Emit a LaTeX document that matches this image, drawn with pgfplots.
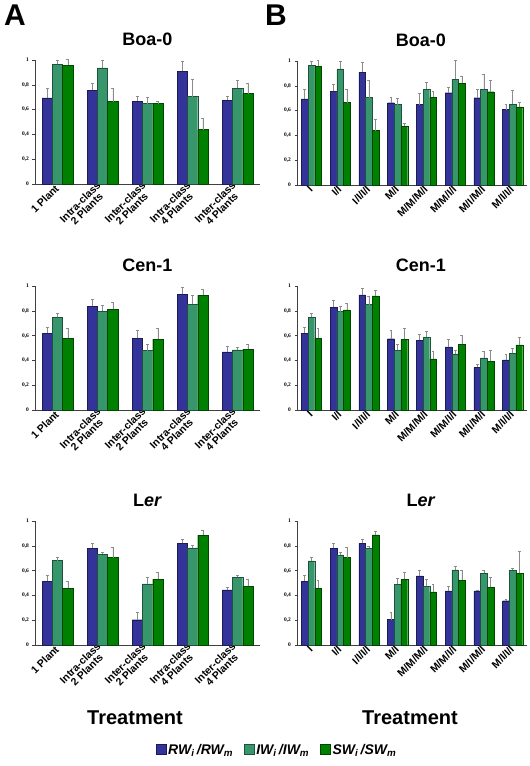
\documentclass[border=0pt]{standalone}
\usepackage{pgfplots}
\usepackage{pgfplotstable}
\usepackage{fontspec}
\setmainfont{Liberation Sans}
\newfontfamily\serifb{Liberation Serif}
\pgfplotsset{compat=1.18}
\definecolor{cB}{RGB}{51,51,153}
\definecolor{cT}{RGB}{56,150,108}
\definecolor{cG}{RGB}{0,128,0}

\pgfplotstableread{
x b be t te g ge
0 0.694 0.08 0.965 0.035 0.957 0.05
1 0.755 0.06 0.936 0.06 0.665 0.11
2 0.668 0.04 0.649 0.05 0.649 0.02
3 0.910 0.08 0.705 0.14 0.439 0.09
4 0.676 0.03 0.774 0.06 0.729 0.08
}\boaL
\pgfplotstableread{
x b be t te g ge
0 0.694 0.08 0.965 0.035 0.957 0.05
1 0.755 0.06 0.936 0.06 0.665 0.11
2 0.910 0.08 0.705 0.14 0.439 0.09
3 0.664 0.04 0.648 0.05 0.475 0.025
4 0.648 0.09 0.773 0.055 0.709 0.045
5 0.744 0.045 0.853 0.15 0.819 0.06
6 0.704 0.07 0.773 0.12 0.752 0.09
7 0.608 0.04 0.653 0.11 0.629 0.035
}\boaR
\pgfplotstableread{
x b be t te g ge
0 0.620 0.05 0.747 0.035 0.578 0.08
1 0.835 0.06 0.798 0.045 0.811 0.06
2 0.578 0.065 0.479 0.05 0.572 0.09
3 0.934 0.055 0.854 0.07 0.926 0.05
4 0.468 0.045 0.484 0.02 0.489 0.045
}\cenL
\pgfplotstableread{
x b be t te g ge
0 0.620 0.05 0.747 0.035 0.578 0.08
1 0.830 0.055 0.794 0.045 0.807 0.055
2 0.928 0.055 0.850 0.07 0.920 0.05
3 0.575 0.065 0.480 0.05 0.570 0.09
4 0.563 0.045 0.587 0.05 0.413 0.06
5 0.509 0.065 0.453 0.03 0.531 0.075
6 0.343 0.03 0.421 0.055 0.394 0.09
7 0.405 0.045 0.456 0.04 0.525 0.06
}\cenR
\pgfplotstableread{
x b be t te g ge
0 0.515 0.05 0.681 0.03 0.456 0.06
1 0.780 0.04 0.732 0.015 0.705 0.08
2 0.204 0.06 0.493 0.05 0.531 0.055
3 0.820 0.035 0.783 0.02 0.887 0.035
4 0.445 0.02 0.547 0.012 0.472 0.055
}\lerL
\pgfplotstableread{
x b be t te g ge
0 0.516 0.05 0.678 0.03 0.459 0.06
1 0.780 0.04 0.727 0.02 0.705 0.08
2 0.820 0.035 0.780 0.02 0.888 0.03
3 0.205 0.06 0.491 0.05 0.529 0.057
4 0.557 0.05 0.472 0.06 0.428 0.065
5 0.437 0.035 0.605 0.027 0.521 0.08
6 0.437 0.006 0.578 0.022 0.465 0.085
7 0.357 0.016 0.603 0.016 0.578 0.176
}\lerR

\pgfplotsset{
  panel/.style={
    scale only axis, anchor=south west, clip=false,
    ybar=0pt, ymin=0, ymax=1,
    ytick={0,0.2,0.4,0.6,0.8,1},
    yticklabels={0,{0,2},{0,4},{0,6},{0,8},1},
    yticklabel style={font=\serifb\fontsize{5.5}{6}\selectfont\bfseries},
    axis x line*=bottom, axis y line*=left,
    axis line style={-, black!75, line width=0.5pt},
    tick align=outside, major tick length=2.5pt, minor tick length=2.5pt,
    tick style={black!75, line width=0.4pt},
    xtick=data, xtick style={draw=none},
    xticklabel style={font=\fontsize{10.5}{9.5}\selectfont\bfseries, rotate=45, anchor=east, align=center, inner sep=0.5pt},
    title style={font=\fontsize{18}{18}\selectfont\bfseries, at={(0.5,1)}, anchor=base, yshift=8pt},
  },
  leftp/.style={panel, width=225pt, height=124pt, xmin=-0.5, xmax=4.5, bar width=10.3pt,
    minor xtick={0.5,1.5,2.5,3.5},
    xticklabels={1 Plant,{Intra-class\\2 Plants},{Inter-class\\2 Plants},{Intra-class\\4 Plants},{Inter-class\\4 Plants}}},
  rightp/.style={panel, width=230pt, height=124pt, xmin=-0.5, xmax=7.5, bar width=6.7pt,
    minor xtick={0.5,1.5,...,6.5},
    title style={xshift=9pt},
    xticklabels={I,I/I,I/I/I/I,M/I,M/M/M/I,M/M/I/I,M/I/M/I,M/I/I/I}},
  eb/.style={error bars/y dir=plus, error bars/y explicit,
    error bars/error bar style={black!45, line width=0.4pt},
    error bars/error mark options={rotate=90, black!45, mark size=1.4pt, line width=0.4pt}},
  sB/.style={fill=cB, draw=cB!55!black, line width=0.3pt, eb},
  sT/.style={fill=cT, draw=cT!55!black, line width=0.3pt, eb},
  sG/.style={fill=cG, draw=cG!55!black, line width=0.3pt, eb},
}

\begin{document}
\begin{tikzpicture}
\path[use as bounding box] (0pt,0pt) rectangle (530pt,766pt);

% Row 1
\begin{axis}[leftp, at={(35pt,582pt)}, title={Boa-0}]
\addplot[sB] table[x=x,y=b,y error=be]{\boaL};
\addplot[sT] table[x=x,y=t,y error=te]{\boaL};
\addplot[sG] table[x=x,y=g,y error=ge]{\boaL};
\end{axis}
\begin{axis}[rightp, at={(297pt,581pt)}, title={Boa-0}]
\addplot[sB] table[x=x,y=b,y error=be]{\boaR};
\addplot[sT] table[x=x,y=t,y error=te]{\boaR};
\addplot[sG] table[x=x,y=g,y error=ge]{\boaR};
\end{axis}

% Row 2
\begin{axis}[leftp, at={(35pt,356pt)}, title={Cen-1}]
\addplot[sB] table[x=x,y=b,y error=be]{\cenL};
\addplot[sT] table[x=x,y=t,y error=te]{\cenL};
\addplot[sG] table[x=x,y=g,y error=ge]{\cenL};
\end{axis}
\begin{axis}[rightp, at={(297pt,356pt)}, title={Cen-1}]
\addplot[sB] table[x=x,y=b,y error=be]{\cenR};
\addplot[sT] table[x=x,y=t,y error=te]{\cenR};
\addplot[sG] table[x=x,y=g,y error=ge]{\cenR};
\end{axis}

% Row 3
\begin{axis}[leftp, at={(35pt,121pt)}, title={L\textit{er}},
  legend columns=3,
  legend style={at={(1.076,-0.847)}, anchor=center, draw=none, fill=none,
    font=\fontsize{14}{14}\selectfont\bfseries\itshape,
    /tikz/every even column/.append style={column sep=9pt}},
  legend image code/.code={\draw[#1] (0pt,-4pt) rectangle (10pt,6pt);}]
\addplot[sB] table[x=x,y=b,y error=be]{\lerL};
\addplot[sT] table[x=x,y=t,y error=te]{\lerL};
\addplot[sG] table[x=x,y=g,y error=ge]{\lerL};
\legend{RW\textsubscript{\itshape i}\,/RW\textsubscript{\itshape m},IW\textsubscript{\itshape i}\,/IW\textsubscript{\itshape m},SW\textsubscript{\itshape i}\,/SW\textsubscript{\itshape m}}
\end{axis}
\begin{axis}[rightp, at={(297pt,121pt)}, title={L\textit{er}}]
\addplot[sB] table[x=x,y=b,y error=be]{\lerR};
\addplot[sT] table[x=x,y=t,y error=te]{\lerR};
\addplot[sG] table[x=x,y=g,y error=ge]{\lerR};
\end{axis}

\node[font=\fontsize{30}{30}\selectfont\bfseries] at (15pt,751pt) {A};
\node[font=\fontsize{30}{30}\selectfont\bfseries] at (276pt,751pt) {B};
\node[font=\fontsize{20}{20}\selectfont\bfseries] at (135pt,48pt) {Treatment};
\node[font=\fontsize{20}{20}\selectfont\bfseries] at (410pt,48pt) {Treatment};
\end{tikzpicture}
\end{document}
